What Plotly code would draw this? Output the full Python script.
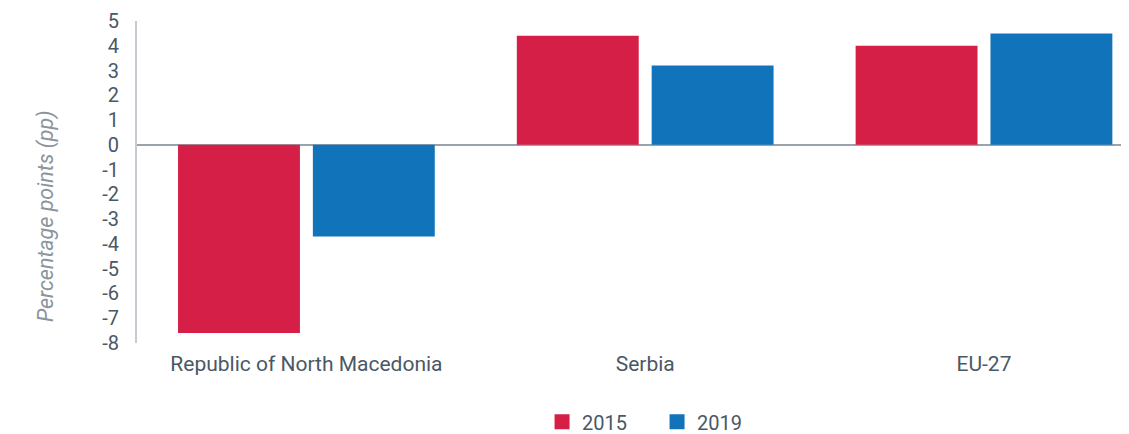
import plotly.graph_objects as go

categories = ["Republic of North Macedonia", "Serbia", "EU-27"]
values_2015 = [-7.6, 4.4, 4.0]
values_2019 = [-3.7, 3.2, 4.5]
series_names = ["2015", "2019"]
tick_vals = list(range(-8, 6))
tick_text = [str(v) for v in tick_vals]  # plain hyphen minus as in the reference

RED = "#D61F47"
BLUE = "#1174BB"
TEXT = "#4A5866"
colors = [RED, BLUE]

# the page body has an 8px default margin; size the figure to fit the window
W, H = 1121, 426
L, T, B = 129, 13, 91
plot_w = W - L
plot_h = H - T - B

fig = go.Figure()
for name, vals, col in zip(series_names, [values_2015, values_2019], colors):
    fig.add_trace(go.Bar(x=categories, y=vals, name=name, showlegend=False,
                         legendgroup=name, marker=dict(color=col, line=dict(width=0))))
# legend entries with square swatches
for name, col in zip(series_names, colors):
    fig.add_trace(go.Scatter(x=[None], y=[None], mode="markers", name=name,
                             legendgroup=name,
                             marker=dict(symbol="square", size=15, color=col)))

fig.update_layout(
    width=W, height=H,
    margin=dict(l=L, r=0, t=T, b=B, autoexpand=False),
    paper_bgcolor="white", plot_bgcolor="white",
    barmode="group", bargap=0.204, bargroupgap=0.096,
    font=dict(family="Roboto", size=20, color=TEXT),
    showlegend=True,
    legend=dict(orientation="h", xref="container", yref="container",
                x=0.579, xanchor="center", y=0.0285, yanchor="middle",
                font=dict(size=20, color=TEXT), entrywidth=70,
                traceorder="normal"),
    xaxis=dict(range=[-0.5, 2.428], showline=False, showgrid=False, ticks="",
               automargin=False, ticklabelstandoff=6,
               tickfont=dict(size=21, color=TEXT), fixedrange=True),
    yaxis=dict(range=[-8, 5], tickvals=tick_vals, ticktext=tick_text, showgrid=False,
               automargin=False,
               showline=True, linecolor="#C5CBD0", linewidth=2,
               zeroline=True, zerolinecolor="#9BA3AA", zerolinewidth=1.5,
               ticks="", ticklabelstandoff=12, tickfont=dict(size=20, color=TEXT)),
    annotations=[dict(text="<i>Percentage points (pp)</i>", textangle=-90,
                      xref="paper", yref="paper",
                      x=-(L - 38) / plot_w, y=(H - B - 208) / plot_h,
                      xanchor="center", yanchor="middle", showarrow=False,
                      font=dict(size=21.5, color="#8C949C", family="Roboto"))],
)

fig.write_html("out.html")
